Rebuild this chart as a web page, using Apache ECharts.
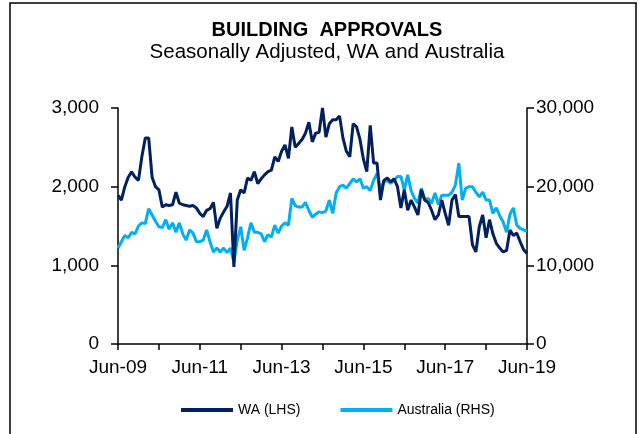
<!DOCTYPE html>
<html>
<head>
<meta charset="utf-8">
<script src="https://cdn.jsdelivr.net/npm/echarts@6/dist/echarts.min.js"></script>
<style>html,body{margin:0;padding:0;background:#fff}#c{width:641px;height:434px}</style>
</head>
<body>
<div id="c"></div>
<script>
const months = ['Jan','Feb','Mar','Apr','May','Jun','Jul','Aug','Sep','Oct','Nov','Dec'];
const categories = [];
for (let y = 2009, m = 5; categories.length < 121; ) {
  categories.push(months[m] + '-' + String(y % 100).padStart(2, '0'));
  m++; if (m === 12) { m = 0; y++; }
}
const waValues = [
1890,1830,2000,2120,2190,2120,2080,2380,2620,2620,2120,2000,1960,1740,1770,1760,1770,1930,1790,1770,
1760,1750,1760,1730,1660,1620,1700,1720,1800,1470,1600,1680,1750,1920,980,1830,1960,1920,2110,2080,
2190,2040,2100,2150,2190,2210,2380,2320,2450,2530,2360,2760,2500,2550,2600,2680,2820,2570,2680,2690,
3000,2630,2800,2850,2850,2900,2620,2450,2380,2800,2760,2600,2350,2190,2780,2300,2300,1830,2080,2110,
2060,2100,2000,1730,1960,1700,1830,1740,1640,1960,1830,1800,1700,1580,1640,1830,1660,1510,1830,1900,
1620,1620,1620,1620,1260,1170,1490,1640,1350,1580,1400,1280,1220,1170,1190,1450,1380,1410,1300,1200,
1150];
const ausValues = [
12200,13000,13800,13500,14200,14000,15000,15400,15300,17200,16400,15600,14900,14800,15800,14600,15400,14200,15400,14000,
13200,14500,14100,13000,13000,13200,14500,13000,11700,12200,11700,12200,11600,12200,10400,13200,14900,11900,13500,15400,
14200,14200,14000,13000,13900,13600,15100,14100,15000,15400,15100,18500,17600,17400,17400,18000,17000,16100,16500,16800,
16700,16900,18300,16600,19200,20000,20200,19800,20400,21000,20600,21000,19800,20000,19500,20800,21700,19600,20600,20800,
20400,20800,21300,21300,19600,21500,19500,18500,17900,19800,18300,18500,17900,19200,17700,18900,18900,18900,19300,20200,
23000,18300,19800,20000,20000,19300,18700,19300,18300,18300,16600,17300,16300,15500,14200,16500,17300,15100,14700,14500,
14400];
const leftTicks = [0, 1000, 2000, 3000];
const rightTicks = [0, 10000, 20000, 30000];
const titleText = 'BUILDING  APPROVALS';
const subtitleText = 'Seasonally Adjusted, WA and Australia';

const font = 'Liberation Sans, Arial, sans-serif';
const chart = echarts.init(document.getElementById('c'));
const fmt = v => v.toLocaleString('en-US');
chart.setOption({
  animation: false,
  backgroundColor: '#fff',
  graphic: [
    { type: 'rect', shape: { x: 10, y: 3, width: 626, height: 440 }, style: { fill: 'none', stroke: '#000', lineWidth: 1.5 } },
    { type: 'text', x: 327, y: 30, style: { text: titleText, font: 'bold 20px ' + font, fill: '#000', align: 'center', verticalAlign: 'middle' } },
    { type: 'text', x: 327, y: 52, style: { text: subtitleText, font: '20.5px ' + font, fill: '#000', align: 'center', verticalAlign: 'middle' } }
  ],
  legend: {
    bottom: 12, left: 176, itemGap: 40, itemWidth: 52, itemHeight: 4, icon: 'rect',
    textStyle: { fontFamily: font, fontSize: 14, color: '#000' },
    data: ['WA (LHS)', 'Australia (RHS)']
  },
  grid: { left: 118, right: 114, top: 108, bottom: 90, containLabel: false },
  xAxis: {
    type: 'category', data: categories, boundaryGap: false,
    axisLine: { lineStyle: { color: '#000', width: 1.5 } },
    axisTick: { interval: i => i % 12 === 0, length: 6, lineStyle: { color: '#000', width: 1.5 } },
    axisLabel: { interval: i => i % 24 === 0, color: '#000', fontFamily: font, fontSize: 19, margin: 14, showMaxLabel: true },
    splitLine: { show: false }
  },
  yAxis: [
    { type: 'value', min: 0, max: 3000, interval: 1000, position: 'left',
      axisLine: { show: true, lineStyle: { color: '#000', width: 1.5 } },
      axisTick: { show: true, length: 7, lineStyle: { color: '#000', width: 1.5 } },
      axisLabel: { color: '#000', fontFamily: font, fontSize: 19, margin: 19, formatter: fmt },
      splitLine: { show: false } },
    { type: 'value', min: 0, max: 30000, interval: 10000, position: 'right',
      axisLine: { show: true, lineStyle: { color: '#000', width: 1.5 } },
      axisTick: { show: true, length: 7, lineStyle: { color: '#000', width: 1.5 } },
      axisLabel: { color: '#000', fontFamily: font, fontSize: 19, margin: 9, formatter: fmt },
      splitLine: { show: false } }
  ],
  series: [
    { name: 'WA (LHS)', type: 'line', yAxisIndex: 0, data: waValues, showSymbol: false, symbol: 'none',
      lineStyle: { color: '#002060', width: 3 }, itemStyle: { color: '#002060' }, z: 3 },
    { name: 'Australia (RHS)', type: 'line', yAxisIndex: 1, data: ausValues, showSymbol: false, symbol: 'none',
      lineStyle: { color: '#00B0F0', width: 3 }, itemStyle: { color: '#00B0F0' }, z: 2 }
  ]
});
</script>
</body>
</html>
